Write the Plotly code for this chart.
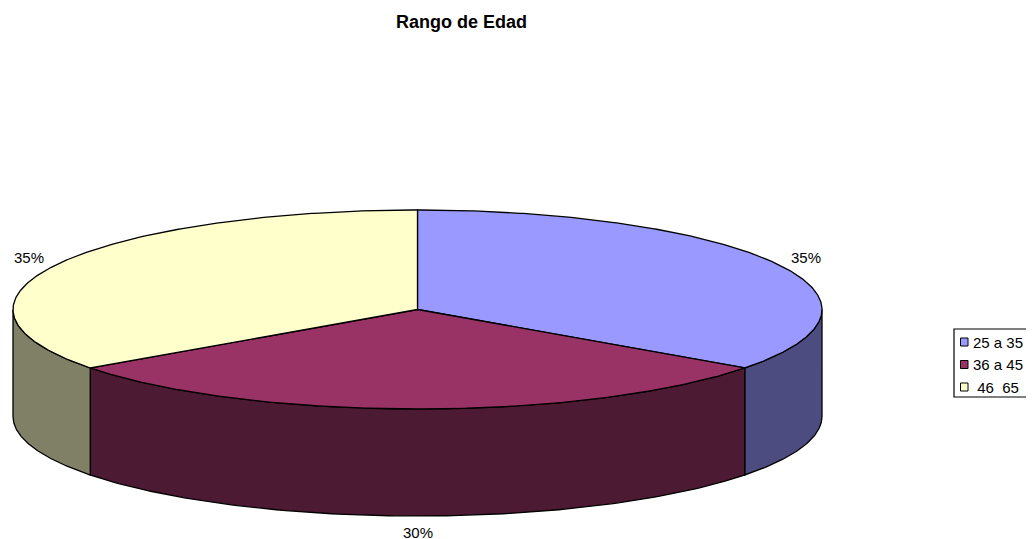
import numpy as np
import plotly.graph_objects as go

# ---- data ----
title = "Rango de Edad"
categories = ["25 a 35", "36 a 45", "\u00a046\u00a0\u00a065"]
values = [35, 30, 35]
top_colors = ["#9999FF", "#993366", "#FFFFCC"]
side_colors = ["#4C4C80", "#4D1A33", "#808066"]

# ---- geometry (pixel space of the browser window) ----
W, H = 1034, 539
OFF = 8  # default page body margin in the browser
cx, cy = 417.5, 309.5
rx, ry = 404.5, 99.5
depth = 107

total = float(sum(values))
fracs = [v / total for v in values]


def pt(theta_deg, dy=0.0):
    t = np.radians(theta_deg)
    return cx + rx * np.cos(t), cy - ry * np.sin(t) + dy


fig = go.Figure()
line = dict(color="black", width=1.3)

# slice angle spans (clockwise from 12 o'clock)
spans = []
start = 90.0
for f in fracs:
    end = start - 360.0 * f
    spans.append((start, end))
    start = end

# side faces (visible front part: angles in [-180, 0])
for i, (a0, a1) in enumerate(spans):
    for shift in (0, -360, 360):
        h, l = a0 + shift, a1 + shift
        s_hi, s_lo = min(h, 0.0), max(l, -180.0)
        if s_hi > s_lo:
            th = np.linspace(s_hi, s_lo, 120)
            xs_t, ys_t = zip(*[pt(t) for t in th])
            xs_b, ys_b = zip(*[pt(t, depth) for t in th[::-1]])
            xs = list(xs_t) + list(xs_b) + [xs_t[0]]
            ys = list(ys_t) + list(ys_b) + [ys_t[0]]
            fig.add_trace(go.Scatter(x=xs, y=ys, mode="lines", fill="toself",
                                     fillcolor=side_colors[i], line=line,
                                     hoverinfo="skip", showlegend=False))

# top faces
for i, (a0, a1) in enumerate(spans):
    th = np.linspace(a0, a1, 300)
    pts = [pt(t) for t in th]
    xs = [cx] + [p[0] for p in pts] + [cx]
    ys = [cy] + [p[1] for p in pts] + [cy]
    fig.add_trace(go.Scatter(x=xs, y=ys, mode="lines", fill="toself",
                             fillcolor=top_colors[i], line=line,
                             hoverinfo="skip", showlegend=False))

annotations = []
shapes = []
font = "Liberation Sans, Arial"

# percentage labels
for i, (a0, a1) in enumerate(spans):
    mid = np.radians((a0 + a1) / 2.0)
    lx = cx + (rx + 32) * np.cos(mid)
    ly = cy - (ry + 16) * np.sin(mid) + (depth if np.sin(mid) < -0.05 else 0)
    annotations.append(dict(x=lx, y=ly, xref="x", yref="y",
                            text=f"{round(fracs[i] * 100):.0f}%", showarrow=False,
                            font=dict(family=font, size=15, color="black"),
                            xanchor="center", yanchor="middle"))

# title
annotations.append(dict(x=461, y=22, xref="x", yref="y", text=f"<b>{title}</b>",
                        showarrow=False, font=dict(family=font, size=18, color="black"),
                        xanchor="center", yanchor="middle"))

# legend (drawn manually)
shapes.append(dict(type="rect", xref="x", yref="y", x0=954, x1=1050, y0=329, y1=397,
                   line=dict(color="black", width=1.2), fillcolor="white", layer="above"))
row_y = [342, 364.5, 387]
for i, cat in enumerate(categories):
    shapes.append(dict(type="rect", xref="x", yref="y", x0=960.5, x1=968, y0=row_y[i] - 4, y1=row_y[i] + 4,
                       line=dict(color="black", width=1), fillcolor=top_colors[i], layer="above"))
    annotations.append(dict(x=971, y=row_y[i], xref="x", yref="y", text=cat, showarrow=False,
                            font=dict(family=font, size=15, color="black"),
                            xanchor="left", yanchor="middle"))

fig.update_layout(
    width=W, height=H,
    margin=dict(l=0, r=0, t=0, b=0),
    paper_bgcolor="white", plot_bgcolor="white",
    xaxis=dict(range=[OFF, W + OFF], visible=False, fixedrange=True),
    yaxis=dict(range=[H + OFF, OFF], visible=False, fixedrange=True),
    annotations=annotations, shapes=shapes, showlegend=False,
)

fig.write_html("out.html")
